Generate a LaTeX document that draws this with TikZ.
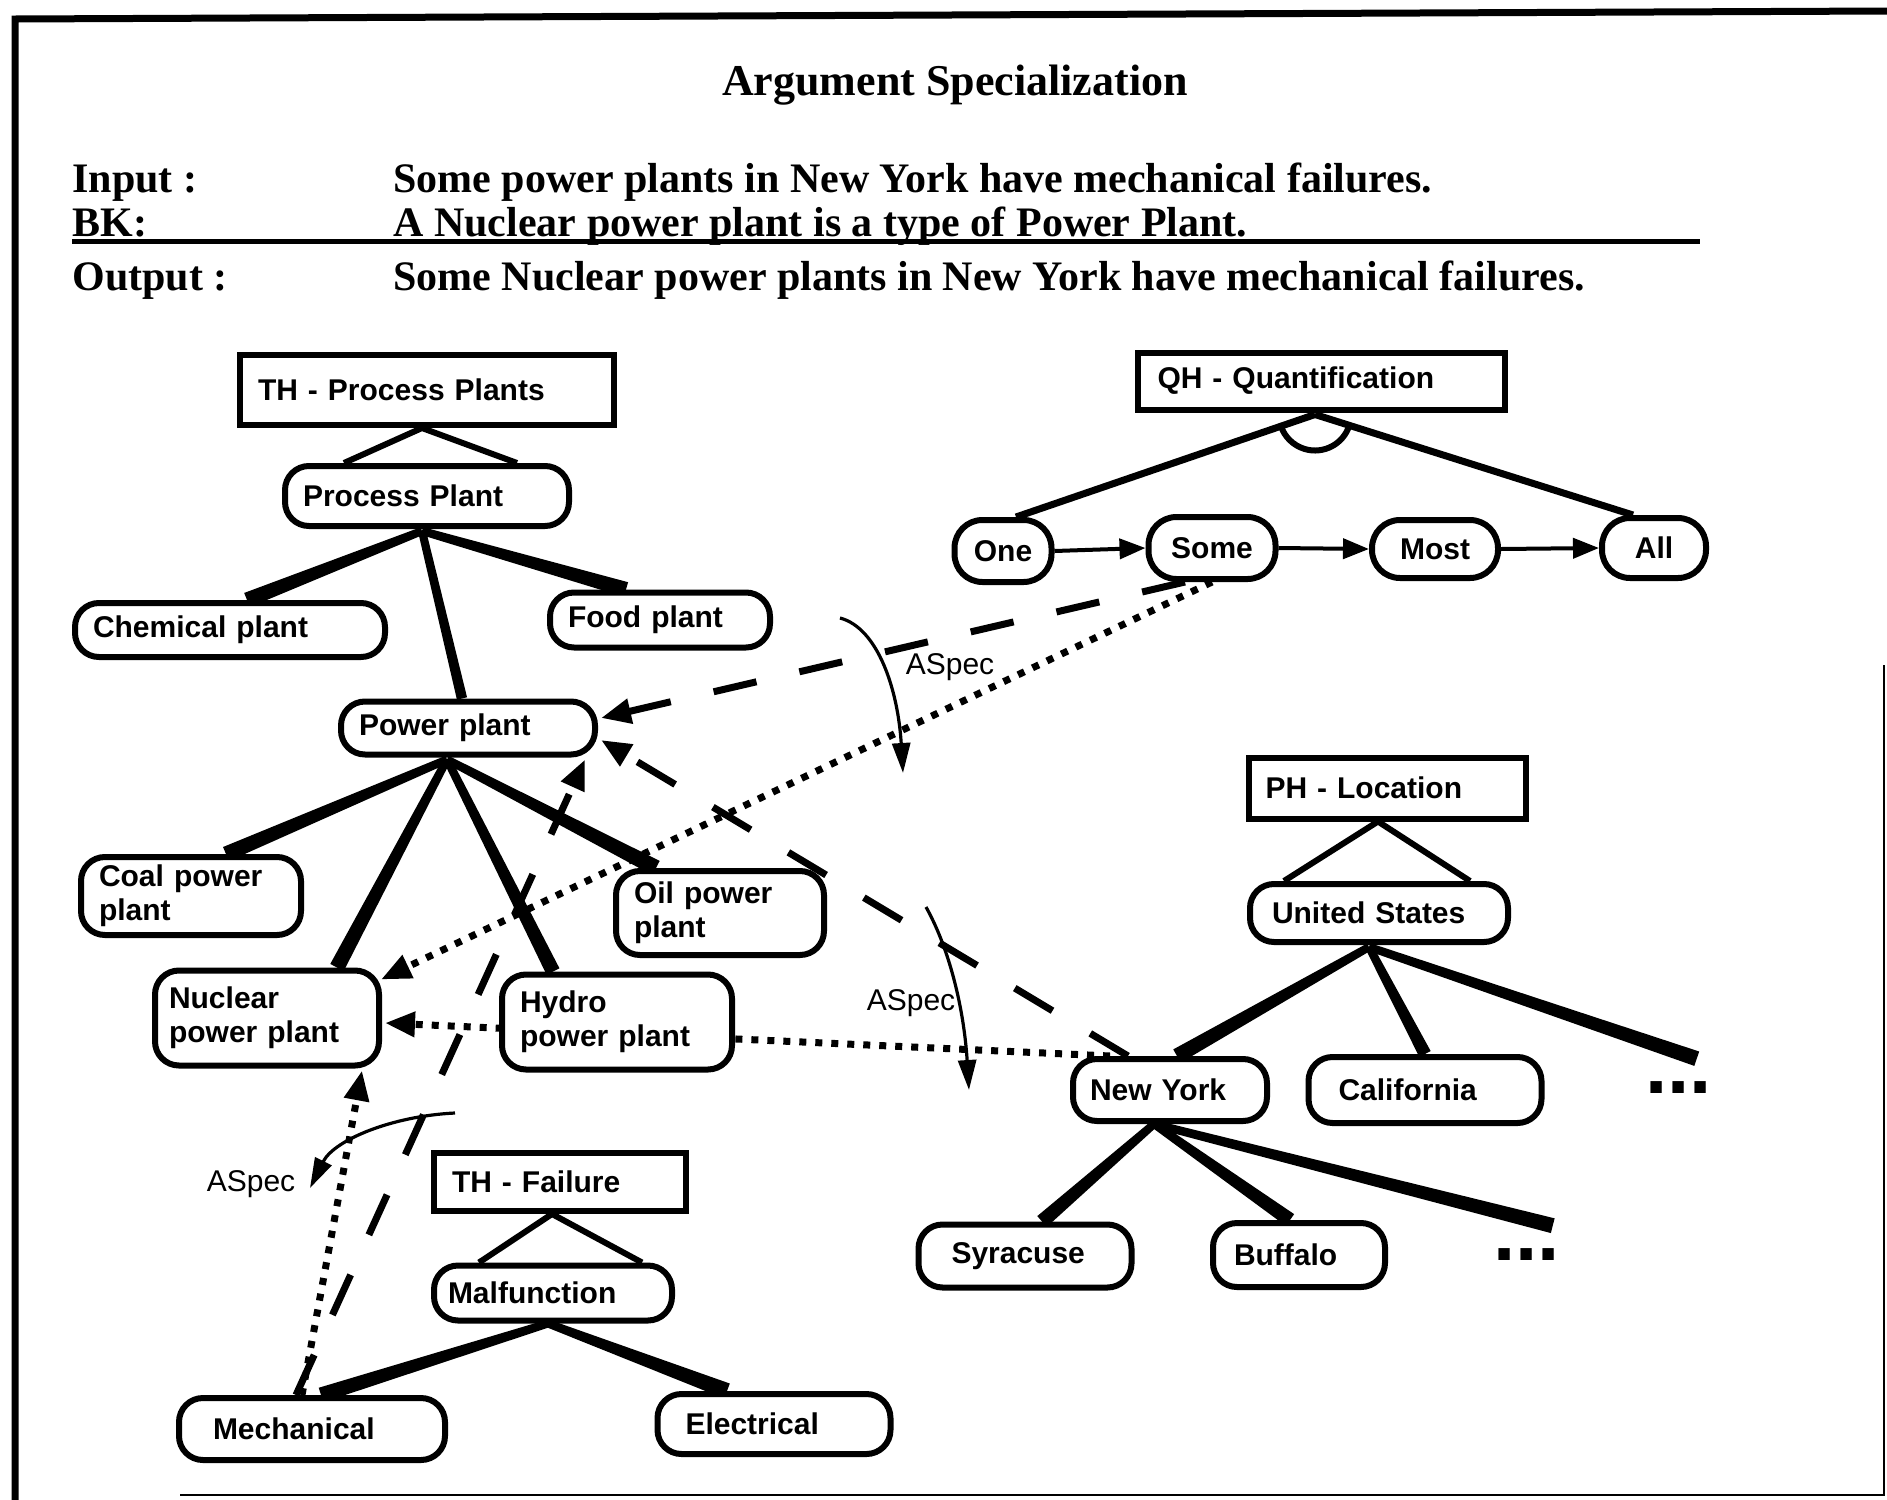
\documentclass[tikz,border=0pt]{standalone}
\usepackage{fontspec}
\setmainfont{Liberation Serif}
\newfontfamily\nf{Liberation Sans}
\usetikzlibrary{calc,arrows.meta}
\pgfdeclarelayer{bg}
\pgfdeclarelayer{paper}
\pgfsetlayers{paper,bg,main}
\newcommand\nodefont{\nf\bfseries\fontsize{15}{17}\selectfont}
\newcommand\taperedge[4]{\fill ($#1!#3!90:#2$) -- ($#1!#3!-90:#2$) -- ($#2!#4!90:#1$) -- ($#2!#4!-90:#1$) -- cycle;}
\begin{document}
\begin{tikzpicture}[x=0.5pt,y=-0.5pt,
 hdr/.style={draw, line width=3pt, fill=white, font=\nodefont, align=left, inner xsep=9pt, inner ysep=0pt},
 cn/.style={hdr, rounded corners=12pt},
 qn/.style={draw, line width=3pt, fill=white, rounded corners=14pt, font=\nodefont, align=center, inner sep=0pt},
 tri/.style={line width=3pt, line join=round},
 qline/.style={line width=3.5pt},
 dashl/.style={line width=3.5pt, dash pattern=on 22pt off 22pt},
 dotl/.style={line width=3.5pt, dash pattern=on 3.5pt off 4.5pt},
 bigtip/.style={-{Triangle[length=15pt,width=12pt]}},
 qarr/.style={line width=2pt, -{Triangle[length=13pt,width=10pt]}},
 aspec/.style={line width=1.6pt, -{Triangle[length=15pt,width=9pt]}},
 lbl/.style={font=\nf\fontsize{15}{17}\selectfont, inner sep=0pt},
 body/.style={font=\bfseries\fontsize{21}{24}\selectfont, anchor=base west, inner sep=0pt},
 dotsnode/.style={font=\nf\bfseries\fontsize{40}{40}\selectfont, anchor=base west, inner sep=0pt},
]
\useasboundingbox (0,0) rectangle (1887,1500);
\begin{pgfonlayer}{paper}
\fill[white] (0,0) rectangle (1887,1500);
\end{pgfonlayer}

% frame
\draw[line width=3.5pt] (15,1500) -- (15,19) -- (1887,11);
\draw[line width=1.2pt] (180,1495) -- (1884,1495) -- (1884,665);

% heading text
\node[font=\bfseries\fontsize{22}{26}\selectfont, anchor=base, inner sep=0pt] (title) at (955,95) {Argument Specialization};
\node[body] (inlbl) at (72,192) {Input :};
\node[body] (intxt) at (393,192) {Some power plants in New York have mechanical failures.};
\node[body] (bklbl) at (72,236) {BK:};
\node[body] (bktxt) at (393,236) {A Nuclear power plant is a type of Power Plant.};
\node[body] (outlbl) at (72,290) {Output :};
\node[body] (outtxt) at (393,290) {Some Nuclear power plants in New York have mechanical failures.};
\draw[line width=2.5pt] (72,241) -- (1700,241);

% nodes
\node[hdr, text width=169pt, minimum height=35pt] (thpp) at (427,390) {TH - Process Plants};
\node[cn, text width=124pt, minimum height=30pt] (procplant) at (427,496) {Process Plant};
\node[cn, text width=137pt, minimum height=27pt] (chem) at (230,630) {Chemical plant};
\node[cn, text width=92pt, minimum height=27.5pt] (food) at (660,620) {Food plant};
\node[cn, text width=109pt, minimum height=26.5pt] (power) at (468,728) {Power plant};
\node[cn, text width=92pt, minimum height=39pt] (coal) at (191,896) {Coal power\\plant};
\node[cn, text width=86pt, minimum height=42pt] (oil) at (720,913) {Oil power\\plant};
\node[cn, inner xsep=7pt, text width=98pt, minimum height=47.5pt] (nuclear) at (267,1018) {Nuclear\\power plant};
\node[cn, text width=97pt, minimum height=47.5pt] (hydro) at (617,1022) {Hydro\\power plant};
\node[hdr, text width=108pt, minimum height=29pt] (thf) at (560,1182) {TH - Failure};
\node[cn, inner xsep=7pt, text width=105pt, minimum height=27.5pt] (malf) at (553,1293) {Malfunction};
\node[cn, inner xsep=17pt, text width=99pt, minimum height=31pt] (mech) at (312,1429) {Mechanical};
\node[cn, inner xsep=14pt, text width=88.5pt, minimum height=30pt] (elec) at (774,1424) {Electrical};
\node[hdr, inner xsep=10pt, text width=163.5pt, minimum height=28.5pt] (qh) at (1321,381) {QH - Quantification};
\node[qn, minimum width=48.5pt, minimum height=31pt] (one) at (1003,551) {One};
\node[qn, minimum width=63.5pt, minimum height=31pt] (some) at (1212,548) {Some};
\node[qn, minimum width=63pt, minimum height=29pt] (most) at (1435,549) {Most};
\node[qn, minimum width=52pt, minimum height=30pt] (all) at (1654,548) {All};
\node[hdr, inner xsep=8.5pt, text width=121.5pt, minimum height=30.5pt] (phl) at (1387,788) {PH - Location};
\node[cn, inner xsep=11pt, text width=107pt, minimum height=29pt] (us) at (1379,913) {United States};
\node[cn, inner xsep=8.5pt, text width=80pt, minimum height=31pt] (ny) at (1170,1090) {New York};
\node[cn, inner xsep=15pt, text width=86.5pt, minimum height=33pt] (cal) at (1425,1090) {California};
\node[cn, inner xsep=16.5pt, text width=73.5pt, minimum height=31.5pt] (syr) at (1025,1256) {Syracuse};
\node[cn, inner xsep=10.5pt, text width=65pt, minimum height=32pt] (buf) at (1299,1255) {Buffalo};
\node[dotsnode] (more1) at (1645,1093) {...};
\node[dotsnode] (more2) at (1493,1260) {...};

% edge end points
\coordinate (pp-a) at ($(procplant.south)+(-5,2)$);
\coordinate (chem-t) at ($(chem.north)+(17,0)$);
\coordinate (food-t) at ($(food.north)+(-34,0)$);
\coordinate (power-t) at ($(power.north)+(-6,0)$);
\coordinate (pw-a) at ($(power.south)+(-21,2)$);
\coordinate (coal-t) at ($(coal.north)+(35,0)$);
\coordinate (nuc-t) at ($(nuclear.north)+(70,0)$);
\coordinate (hyd-t) at ($(hydro.north)+(-64,0)$);
\coordinate (oil-t) at ($(oil.north)+(-64,0)$);
\coordinate (mf-a) at ($(malf.south)+(-5,0)$);
\coordinate (mech-t) at ($(mech.north)+(9,0)$);
\coordinate (elec-t) at ($(elec.north)+(-47,0)$);
\coordinate (us-a) at ($(us.south)+(-10,2)$);
\coordinate (ny-t) at ($(ny.north)+(7,0)$);
\coordinate (cal-t) at (cal.north);
\coordinate (more1-t) at ($(more1.north)+(18,-22)$);
\coordinate (ny-a) at ($(ny.south)+(-16,0)$);
\coordinate (syr-t) at ($(syr.north)+(17,0)$);
\coordinate (buf-t) at ($(buf.north)+(-9,0)$);
\coordinate (more2-t) at ($(more2.north)+(26,-22)$);
\coordinate (qh-a) at ($(qh.south)+(-6,2)$);

\begin{pgfonlayer}{bg}
 % header triangles
 \draw[tri] ($(procplant.north)+(-83,0)$) -- ($(thpp.south)+(-5,0)$) -- ($(procplant.north)+(90,0)$);
 \draw[tri] ($(malf.north)+(-74,0)$) -- ($(thf.south)+(-8,0)$) -- ($(malf.north)+(89,0)$);
 \draw[tri] ($(us.north)+(-95,0)$) -- ($(phl.south)+(-9,0)$) -- ($(us.north)+(91,0)$);
 % quantification
 \draw[qline] (qh-a) -- ($(one.north)+(13,0)$);
 \draw[qline] (qh-a) -- ($(all.north)+(-21,0)$);
 \draw[line width=3pt] ($(qh-a)+(17:36)$) arc[start angle=17, end angle=162, radius=36];
 % tree edges
 \taperedge{(pp-a)}{(chem-t)}{2pt}{3.8pt}
 \taperedge{(pp-a)}{(food-t)}{2pt}{3.8pt}
 \taperedge{(pp-a)}{(power-t)}{2pt}{2.6pt}
 \taperedge{(pw-a)}{(coal-t)}{2pt}{3.8pt}
 \taperedge{(pw-a)}{(nuc-t)}{2pt}{3.8pt}
 \taperedge{(pw-a)}{(hyd-t)}{2pt}{3.6pt}
 \taperedge{(pw-a)}{(oil-t)}{2pt}{4pt}
 \taperedge{(mf-a)}{(mech-t)}{2pt}{3.8pt}
 \taperedge{(mf-a)}{(elec-t)}{2pt}{4pt}
 \taperedge{(us-a)}{(ny-t)}{2pt}{3.8pt}
 \taperedge{(us-a)}{(cal-t)}{2pt}{3.2pt}
 \taperedge{(us-a)}{(more1-t)}{2pt}{3.8pt}
 \taperedge{(ny-a)}{(syr-t)}{2pt}{3.6pt}
 \taperedge{(ny-a)}{(buf-t)}{2pt}{3.6pt}
 \taperedge{(ny-a)}{(more2-t)}{2pt}{3.8pt}
 % inference connectors
 \draw[dashl, bigtip] ($(some.south)+(-27,0)$) -- ($(power.east)+(3,-10)$);
 \draw[dashl, bigtip] ($(ny.north west)+(58,0)$) -- ($(power.east)+(3,12)$);
 \draw[dotl, bigtip] (some.south) -- ($(nuclear.north east)+(-1,12)$);
 \draw[dotl, bigtip] ($(ny.north west)+(40,0)$) -- ($(nuclear.east)+(3,5)$);
 \draw[dotl, bigtip] ($(mech.north)+(-10,0)$) -- ($(nuclear.south east)+(-20,2)$);
 \draw[dashl, bigtip] ($(mech.north)+(-16,0)$) -- ($(power.south east)+(-13,2)$);
\end{pgfonlayer}

% quantifier order arrows
\draw[qarr] (one.east) -- (some.west);
\draw[qarr] (some.east) -- (most.west);
\draw[qarr] (most.east) -- (all.west);

% ASpec arrows
\coordinate (as1s) at (840,618);
\coordinate (as1e) at (903,773);
\draw[aspec] (as1s) .. controls (878,628) and (898,690) .. (as1e);
\node[lbl] (as1l) at (950,667) {ASpec};
\coordinate (as2s) at (926,907);
\coordinate (as2e) at (969,1090);
\draw[aspec] (as2s) .. controls (950,950) and (964,1010) .. (as2e);
\node[lbl] (as2l) at (911,1003) {ASpec};
\coordinate (as3s) at (455,1113);
\coordinate (as3e) at (310,1188);
\draw[aspec] (as3s) .. controls (392,1116) and (334,1140) .. (as3e);
\node[lbl] (as3l) at (251,1184) {ASpec};
\end{tikzpicture}
\end{document}
